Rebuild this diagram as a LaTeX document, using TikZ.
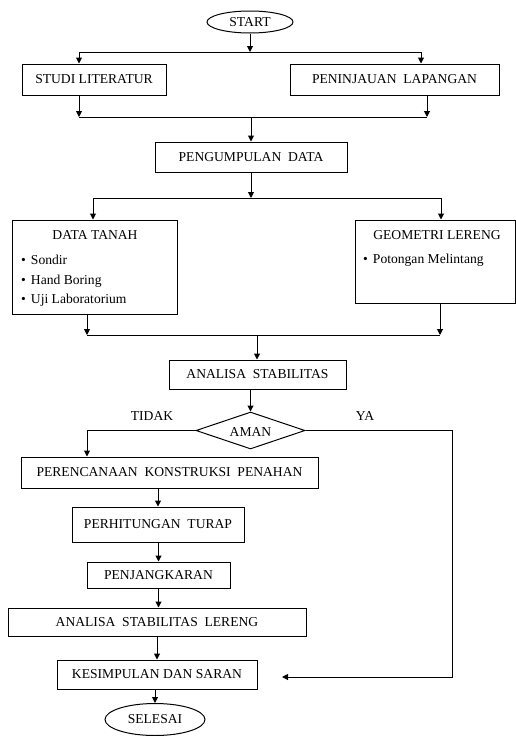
\documentclass[tikz,border=0pt]{standalone}
\usepackage{fontspec}
\setmainfont{Liberation Serif}
\usetikzlibrary{arrows.meta,shapes.geometric}
\begin{document}
\begin{tikzpicture}[x=1pt,y=-1pt,
  every node/.style={font=\fontsize{13.6}{15}\selectfont, inner sep=0pt},
  box/.style={draw, line width=1pt, rectangle, anchor=center},
  oval/.style={draw, line width=1pt, ellipse, anchor=center},
  dia/.style={draw, line width=1pt, diamond, anchor=center},
  ln/.style={line width=1pt},
  arr/.style={line width=1pt, -{Triangle[length=6pt,width=6pt]}},
  lbl/.style={anchor=center},
  itm/.style={anchor=west}]
\useasboundingbox (0,0) rectangle (516,736);
\fill[white] (0,0) rectangle (516,736);

% nodes
\node[oval, minimum width=86pt, minimum height=22pt] (start) at (250,22) {START};
\node[box, minimum width=144pt, minimum height=31pt] (studi) at (94,79.5) {STUDI LITERATUR};
\node[box, minimum width=209pt, minimum height=31pt] (penin) at (394.5,79.5) {PENINJAUAN\ \ LAPANGAN};
\node[box, minimum width=192pt, minimum height=30pt] (pengum) at (251,157) {PENGUMPULAN\ \ DATA};
\node[box, minimum width=165pt, minimum height=94pt] (tanah) at (94.5,267) {};
\node[box, minimum width=160pt, minimum height=83pt] (geo) at (435,261.5) {};
\node[box, minimum width=177pt, minimum height=29pt] (analisa) at (257.5,374.5) {ANALISA\ \ STABILITAS};
\node[dia, minimum width=109pt, minimum height=37pt, aspect=2.9] (aman) at (250.5,430.5) {};
\node[lbl] (amant) at (250.5,432) {AMAN};
\node[box, minimum width=297pt, minimum height=31pt] (peren) at (169.5,472.5) {PERENCANAAN\ \ KONSTRUKSI\ \ PENAHAN};
\node[box, minimum width=172pt, minimum height=35pt] (turap) at (158,524.5) {PERHITUNGAN\ \ TURAP};
\node[box, minimum width=143pt, minimum height=26pt] (jangkar) at (158.5,575) {PENJANGKARAN};
\node[box, minimum width=298pt, minimum height=28pt] (lereng) at (157,622) {ANALISA\ \ STABILITAS\ \ LERENG};
\node[box, minimum width=200pt, minimum height=29pt] (kesim) at (157,674.5) {KESIMPULAN DAN SARAN};
\node[oval, minimum width=100pt, minimum height=32pt] (selesai) at (155,719.5) {SELESAI};

% texts inside boxes
\node[lbl] (tanaht) at (95,235) {DATA TANAH};
\node[itm] (t1) at (21,260) {•\hspace{5pt}Sondir};
\node[itm] (t2) at (21,281) {•\hspace{5pt}Hand Boring};
\node[itm] (t3) at (21,300.5) {•\hspace{5pt}Uji Laboratorium};
\node[lbl] (geot) at (437,235) {GEOMETRI LERENG};
\node[itm] (g1) at (363,260) {•\hspace{5pt}Potongan Melintang};
\node[lbl] (tidak) at (152,416) {TIDAK};
\node[lbl] (ya) at (365,416) {YA};

% junction coordinates
\coordinate (j1) at (250,52);
\coordinate (j1l) at (79,52);
\coordinate (j1r) at (421,52);
\coordinate (j2l) at (79,117);
\coordinate (j2r) at (427,117);
\coordinate (j2) at (251,117);
\coordinate (j3) at (251,198);
\coordinate (j3l) at (93,198);
\coordinate (j3r) at (441,198);
\coordinate (j4l) at (87,335);
\coordinate (j4r) at (440,335);
\coordinate (j4) at (257,335);
\coordinate (nol) at (87,430.5);
\coordinate (ya1) at (452,430.5);
\coordinate (ya2) at (452,677);
\coordinate (yaend) at (282,677);

% connectors
\draw[arr] (start) -- (j1);
\draw[ln] (j1l) -- (j1r);
\draw[arr] (j1l) -- (j1l |- studi.north);
\draw[arr] (j1r) -- (j1r |- penin.north);
\draw[arr] (j2l |- studi.south) -- (j2l);
\draw[arr] (j2r |- penin.south) -- (j2r);
\draw[ln] (j2l) -- (j2r);
\draw[arr] (j2) -- (pengum.north);
\draw[arr] (pengum.south) -- (j3);
\draw[ln] (j3l) -- (j3r);
\draw[arr] (j3l) -- (j3l |- tanah.north);
\draw[arr] (j3r) -- (j3r |- geo.north);
\draw[arr] (j4l |- tanah.south) -- (j4l);
\draw[arr] (j4r |- geo.south) -- (j4r);
\draw[ln] (j4l) -- (j4r);
\draw[arr] (j4) -- (j4 |- analisa.north);
\draw[arr] (aman.north |- analisa.south) -- (aman.north);
\draw[arr] (aman.west) -- (nol) -- (nol |- peren.north);
\draw[arr] (aman.east) -- (ya1) -- (ya2) -- (yaend);
\draw[arr] (turap.north |- peren.south) -- (turap.north);
\draw[arr] (turap.south) -- (turap.south -| jangkar.north) -- (jangkar.north);
\draw[arr] (jangkar.south) -- (jangkar.south |- lereng.north);
\draw[arr] (lereng.south) -- (kesim.north);
\draw[arr] (kesim.south -| selesai.north) -- (selesai.north);
\end{tikzpicture}
\end{document}
